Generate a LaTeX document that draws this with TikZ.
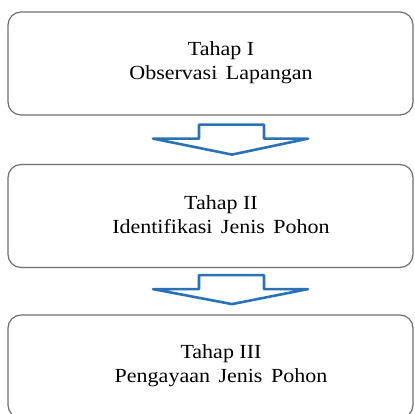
\documentclass[tikz,border=0pt]{standalone}
\usepackage{fontspec}
\setmainfont{Liberation Serif}
\newfontfamily\boxfont[FakeStretch=1.1]{Liberation Serif}
\usetikzlibrary{calc}
\definecolor{arrowblue}{HTML}{2A72B5}
\definecolor{boxgray}{HTML}{6E6E6E}
\tikzset{
  stagebox/.style={draw=boxgray, line width=1.2pt, rounded corners=13pt,
    minimum width=405pt, minimum height=103pt, inner sep=0pt},
  stagetext/.style={align=center, font=\boxfont\fontsize{20}{24}\selectfont, inner sep=0pt},
  blockarrow/.style={draw=arrowblue, line width=2.6pt, line join=round, fill=white}
}
\begin{document}
\begin{tikzpicture}[x=1pt,y=-1pt]
\useasboundingbox (0,0) rectangle (415,414);
\node[stagebox] (b1) at (210.5,63.5) {};
\node[stagebox] (b2) at (210.5,216) {};
\begin{scope}
\clip (0,0) rectangle (415,414);
\node[stagebox] (b3) at (210.5,366.5) {};
\end{scope}
\node[stagetext] (t1) at ($(b1.center)+(10.5,-1)$) {Tahap I\\Observasi\hspace{0.15em} Lapangan};
\node[stagetext] (t2) at ($(b2.center)+(10.5,-1)$) {Tahap II\\Identifikasi\hspace{0.15em} Jenis\hspace{0.15em} Pohon};
\node[stagetext] (t3) at ($(b3.center)+(10.5,-1)$) {Tahap III\\Pengayaan\hspace{0.15em} Jenis\hspace{0.15em} Pohon};
% arrow 1
\coordinate (a1) at ($(b1.south)+(21.5,9)$);
\draw[blockarrow] ($(a1)+(-33,0)$) -- ($(a1)+(32,0)$) -- ($(a1)+(32,14)$) -- ($(a1)+(76,14)$)
  -- ($(a1)+(0,30)$) -- ($(a1)+(-79,14)$) -- ($(a1)+(-33,14)$) -- cycle;
% arrow 2
\coordinate (a2) at ($(b2.south)+(21.5,7)$);
\draw[blockarrow] ($(a2)+(-33,0)$) -- ($(a2)+(32,0)$) -- ($(a2)+(32,14)$) -- ($(a2)+(76,14)$)
  -- ($(a2)+(0,29)$) -- ($(a2)+(-79,14)$) -- ($(a2)+(-33,14)$) -- cycle;
\end{tikzpicture}
\end{document}
